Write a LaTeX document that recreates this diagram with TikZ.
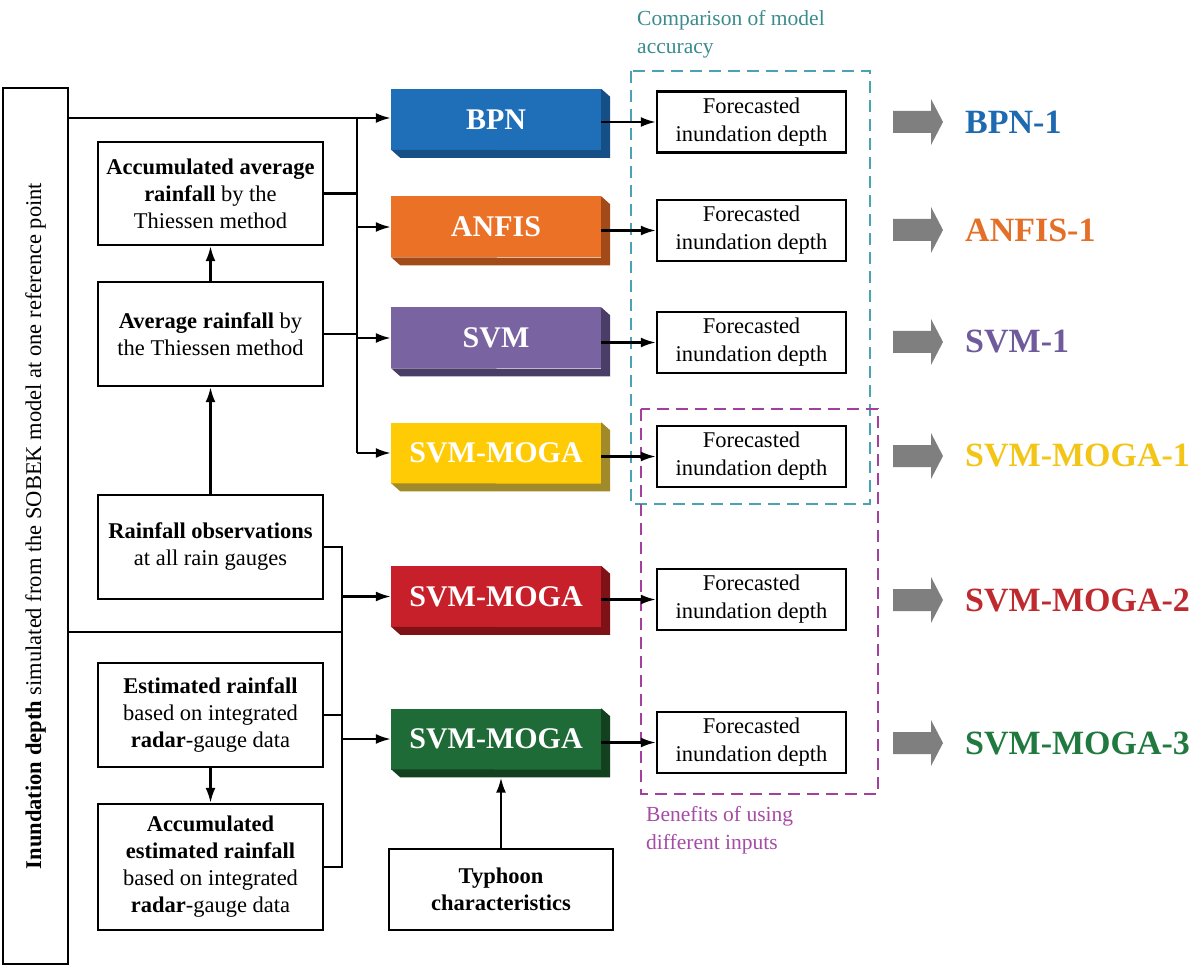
\documentclass[tikz,border=0pt]{standalone}
\usepackage{fontspec}
\setmainfont{Liberation Serif}
\usetikzlibrary{arrows.meta}
\definecolor{bpnF}{HTML}{1E6FB8}\definecolor{bpnS}{HTML}{164E86}\definecolor{bpnL}{HTML}{1E6AB0}
\definecolor{anfF}{HTML}{EA7125}\definecolor{anfS}{HTML}{A34B18}\definecolor{anfL}{HTML}{E46F28}
\definecolor{svmF}{HTML}{7A63A1}\definecolor{svmS}{HTML}{4A3D68}\definecolor{svmL}{HTML}{6F5B9C}
\definecolor{yelF}{HTML}{FFCB05}\definecolor{yelS}{HTML}{A08A2A}\definecolor{yelL}{HTML}{F2C516}
\definecolor{redF}{HTML}{C8202A}\definecolor{redS}{HTML}{7E1216}\definecolor{redL}{HTML}{BE2A2E}
\definecolor{grnF}{HTML}{1E6B37}\definecolor{grnS}{HTML}{13401F}\definecolor{grnL}{HTML}{207A40}
\definecolor{tealD}{HTML}{4AA3B2}\definecolor{tealT}{HTML}{3A8C8E}
\definecolor{magD}{HTML}{A3409E}\definecolor{magT}{HTML}{A64CA6}
\definecolor{grayA}{HTML}{7F7F7F}
\newcommand\modelblk[6]{%
  \node[modelface, fill=#4] (#1) at (#2,#3) {#6};
  \fill[#5] (#1.north east) -- ++(9,8) -- ++(0,61) -- ++(-210,0) -- ++(-9,-8) -- (#1.south east) -- cycle;
}
\newcommand\grayarrow[1]{%
  \fill[grayA] (893,#1-11) -- (931,#1-11) -- (931,#1-23) -- (943,#1) -- (931,#1+23) -- (931,#1+11) -- (893,#1+11) -- cycle;
}
\tikzset{
  modelface/.style={minimum width=210, minimum height=61, inner sep=0, text=white,
    font=\fontsize{30}{34}\selectfont\bfseries},
  fcbox/.style={draw, line width=2.4pt, fill=white, minimum width=189, minimum height=61, inner sep=0,
    align=center, font=\fontsize{22.5}{28}\selectfont},
  inbox/.style={draw, line width=2.4pt, minimum width=225, inner sep=0, align=center,
    font=\fontsize{22.5}{27}\selectfont},
  reslabel/.style={anchor=west, inner sep=0, font=\fontsize{34}{36}\selectfont\bfseries},
  arr/.style={line width=2.2pt, -{Latex[length=15pt,width=10pt]}},
  ln/.style={line width=2.2pt},
  note/.style={anchor=north west, inner sep=0, align=left, font=\fontsize{21.5}{28}\selectfont},
}
\begin{document}
\begin{tikzpicture}[x=1pt,y=-1pt]
\useasboundingbox (0,0) rectangle (1200,968);
\fill[white] (0,0) rectangle (1200,968);

% dashed group frames
\draw[tealD, line width=2.2pt, dash pattern=on 12pt off 7pt] (631,71) rectangle (870,504);
\draw[magD, line width=2.2pt, dash pattern=on 12pt off 7pt] (641,409) rectangle (878,794);
\node[note, text=tealT] (cmpnote) at (637,10) {Comparison of model\\accuracy};
\node[note, text=magT] (bennote) at (646,806) {Benefits of using\\different inputs};

% tall left box
\node[draw, line width=2.4pt, minimum width=65, minimum height=876, inner sep=0] (tall) at (35.5,526) {};
\node[rotate=90, inner sep=0, font=\fontsize{22.5}{27}\selectfont] (talltxt) at (tall.center)
  {{\bfseries Inundation depth} simulated from the SOBEK model at one reference point};

% input boxes
\node[inbox, minimum height=103] (acc) at (210.5,193.5) {{\bfseries Accumulated average}\\{\bfseries rainfall} by the\\Thiessen method};
\node[inbox, minimum height=104] (avg) at (210.5,334) {{\bfseries Average rainfall} by\\the Thiessen method};
\node[inbox, minimum height=104] (rain) at (210.5,547) {{\bfseries Rainfall observations}\\at all rain gauges};
\node[inbox, minimum height=104] (est) at (210.5,715) {{\bfseries Estimated rainfall}\\based on integrated\\{\bfseries radar}-gauge data};
\node[inbox, minimum height=126] (accest) at (210.5,867) {{\bfseries Accumulated}\\{\bfseries estimated rainfall}\\based on integrated\\{\bfseries radar}-gauge data};
\node[draw, line width=2.4pt, minimum width=224, minimum height=81, inner sep=0, align=center,
  font=\fontsize{22.5}{27}\selectfont\bfseries] (typh) at (501,889.5) {Typhoon\\characteristics};

% model blocks
\modelblk{bpn}{496}{119.5}{bpnF}{bpnS}{BPN}
\modelblk{anfis}{496}{227}{anfF}{anfS}{ANFIS}
\modelblk{svm}{496}{338}{svmF}{svmS}{SVM}
\modelblk{mogaA}{496}{453}{yelF}{yelS}{SVM-MOGA}
\modelblk{mogaB}{496}{596.5}{redF}{redS}{SVM-MOGA}
\modelblk{mogaC}{496}{739}{grnF}{grnS}{SVM-MOGA}

% forecast boxes
\node[fcbox] (fc1) at (751.5,122) {Forecasted\\inundation depth};
\node[fcbox] (fc2) at (751.5,230.5) {Forecasted\\inundation depth};
\node[fcbox] (fc3) at (751.5,342.5) {Forecasted\\inundation depth};
\node[fcbox] (fc4) at (751.5,456.5) {Forecasted\\inundation depth};
\node[fcbox] (fc5) at (751.5,599.5) {Forecasted\\inundation depth};
\node[fcbox] (fc6) at (751.5,742.5) {Forecasted\\inundation depth};

% bus coordinates
\coordinate (busA) at (357,118);
\coordinate (busB) at (342,547);

% connectors, upper group
\draw[arr] (tall.east |- 0,118) -- (bpn.west |- 0,118);
\draw[ln] (busA) -- (busA |- mogaA.west);
\draw[ln] (acc.east) -- (acc.east -| busA);
\draw[ln] (avg.east) -- (avg.east -| busA);
\draw[arr] (busA |- anfis.west) -- (anfis.west);
\draw[arr] (busA |- svm.west) -- (svm.west);
\draw[arr] (busA |- mogaA.west) -- (mogaA.west);
\draw[arr] (avg.north) -- (acc.south);
\draw[arr] (rain.north) -- (avg.south);

% connectors, lower group
\draw[ln] (rain.east) -- (busB) -- (busB |- accest.east) -- (accest.east);
\draw[ln] (est.east) -- (est.east -| busB);
\draw[ln] (tall.east |- 0,632) -- (busB |- 0,632);
\draw[arr] (busB |- mogaB.west) -- (mogaB.west);
\draw[arr] (busB |- mogaC.west) -- (mogaC.west);
\draw[arr] (est.south) -- (accest.north);
\coordinate (greenbot) at ([yshift=-8pt]mogaC.south);
\draw[arr] (typh.north) -- (typh.north |- greenbot);

% model to forecast
\draw[arr] (bpn.east |- fc1.west) -- (fc1.west);
\draw[arr] (anfis.east |- fc2.west) -- (fc2.west);
\draw[arr] (svm.east |- fc3.west) -- (fc3.west);
\draw[arr] (mogaA.east |- fc4.west) -- (fc4.west);
\draw[arr] (mogaB.east |- fc5.west) -- (fc5.west);
\draw[arr] (mogaC.east |- fc6.west) -- (fc6.west);

% result arrows and labels
\grayarrow{122}\grayarrow{230}\grayarrow{342}\grayarrow{456}\grayarrow{600}\grayarrow{743}
\node[reslabel, text=bpnL] (r1) at (965,122) {BPN-1};
\node[reslabel, text=anfL] (r2) at (965,230) {ANFIS-1};
\node[reslabel, text=svmL] (r3) at (965,342) {SVM-1};
\node[reslabel, text=yelL] (r4) at (965,456) {SVM-MOGA-1};
\node[reslabel, text=redL] (r5) at (965,600) {SVM-MOGA-2};
\node[reslabel, text=grnL] (r6) at (965,743) {SVM-MOGA-3};
\end{tikzpicture}
\end{document}
